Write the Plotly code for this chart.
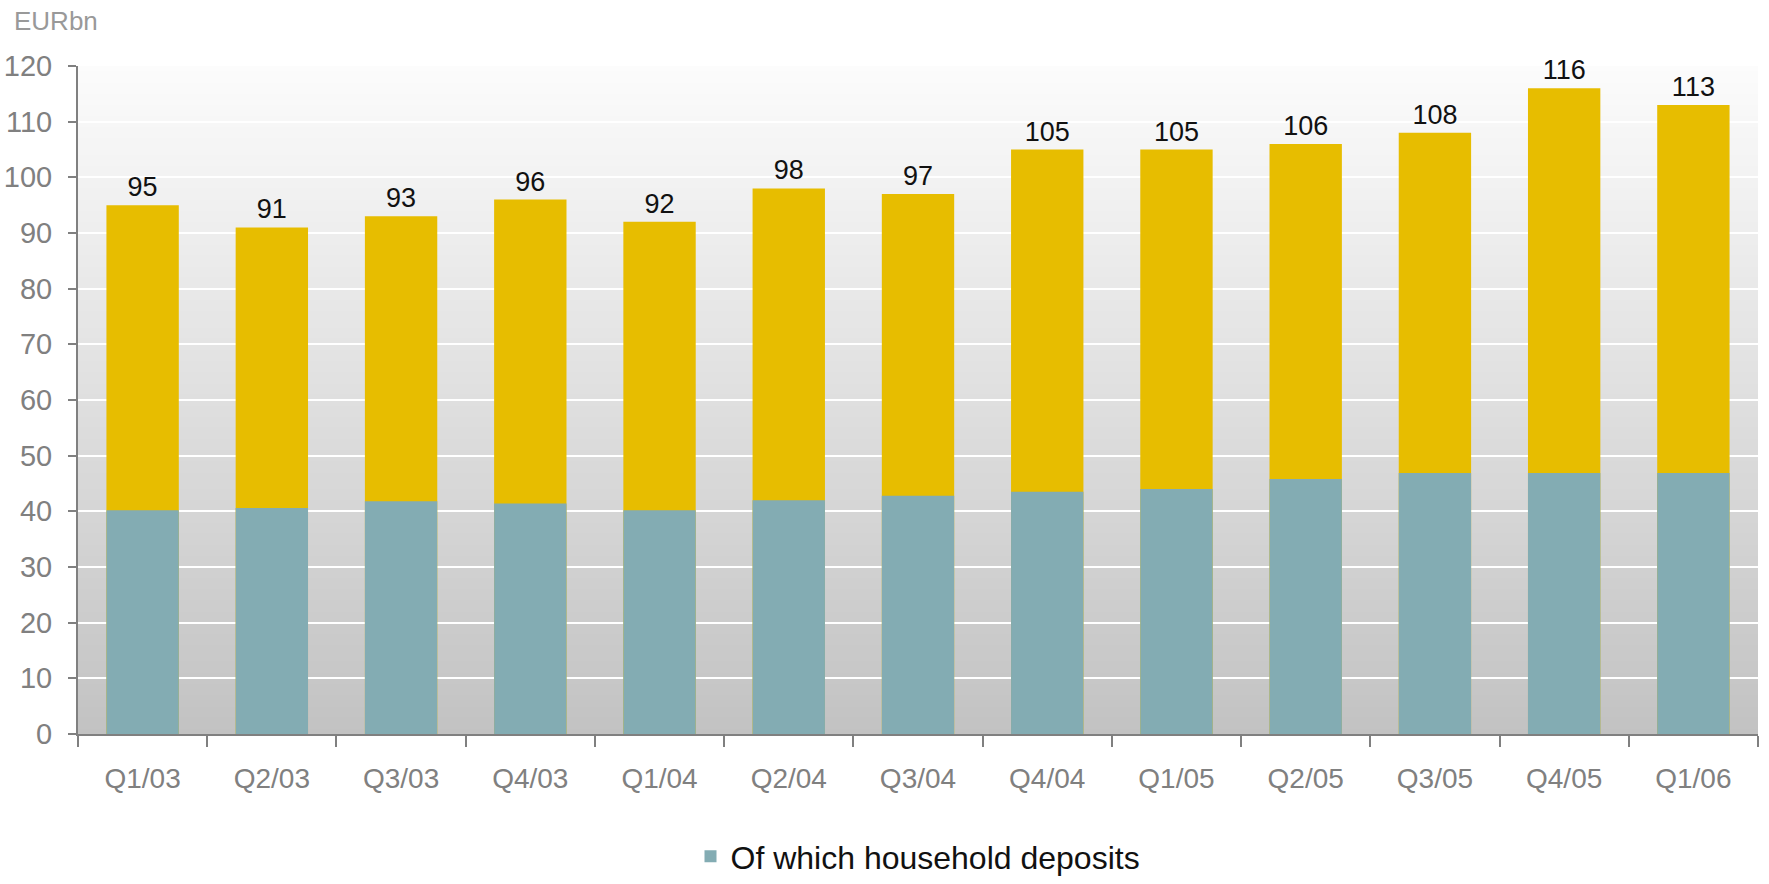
import plotly.graph_objects as go

quarters = ["Q1/03", "Q2/03", "Q3/03", "Q4/03", "Q1/04", "Q2/04", "Q3/04",
            "Q4/04", "Q1/05", "Q2/05", "Q3/05", "Q4/05", "Q1/06"]
total_deposits = [95, 91, 93, 96, 92, 98, 97, 105, 105, 106, 108, 116, 113]
household_deposits = [40.2, 40.6, 41.8, 41.4, 40.2, 42.0, 42.8, 43.5, 44.0,
                      45.8, 46.9, 46.9, 46.9]
y_ticks = list(range(0, 121, 10))

FONT = "Arial, Liberation Sans, sans-serif"
GREY = "#808080"

fig = go.Figure()
fig.add_trace(go.Bar(
    x=quarters, y=total_deposits, name="Total deposits",
    marker=dict(color="#E7BD00", line=dict(width=0)),
    text=[str(v) for v in total_deposits], textposition="outside",
    textfont=dict(family=FONT, size=27, color="#111111"),
    cliponaxis=False, showlegend=False,
))
fig.add_trace(go.Bar(
    x=quarters, y=household_deposits, name="Of which household deposits",
    marker=dict(color="#83ACB3", line=dict(width=0)),
    showlegend=True,
))

# vertical grey gradient behind the plot area (overlapping bands, no seams)
shapes = []
n_bands = 120
top_c, bot_c = 252, 194
for i in range(n_bands):
    frac = (i + 0.5) / n_bands
    c = round(bot_c + (top_c - bot_c) * frac)
    shapes.append(dict(
        type="rect", xref="x domain", yref="y domain",
        x0=0, x1=1, y0=i / n_bands, y1=min(1.0, (i + 1.8) / n_bands),
        fillcolor=f"rgb({c},{c},{c})", line=dict(width=0), layer="below",
    ))

fig.update_layout(
    width=1769, height=884,
    margin=dict(l=78, r=11, t=66, b=150, autoexpand=False),
    paper_bgcolor="white", plot_bgcolor="rgba(0,0,0,0)",
    barmode="overlay", bargap=0.44,
    font=dict(family=FONT, color=GREY),
    shapes=shapes,
    showlegend=True,
    legend=dict(orientation="h", x=0.5, xanchor="center",
                yref="container", y=-0.012, yanchor="bottom",
                font=dict(family=FONT, size=32, color="#111111"),
                bgcolor="rgba(0,0,0,0)", itemwidth=30),
    annotations=[dict(text="EURbn", xref="paper", yref="paper",
                      x=-0.039, y=1.068, xanchor="left", yanchor="middle",
                      showarrow=False, font=dict(family=FONT, size=26, color="#999999"))],
)
fig.update_xaxes(
    showgrid=False, showline=True, linecolor=GREY, linewidth=2,
    ticks="outside", tickson="boundaries", ticklen=11, tickwidth=2, tickcolor=GREY,
    tickfont=dict(family=FONT, size=28, color=GREY), ticklabelstandoff=18,
)
fig.update_yaxes(
    range=[0, 120], tickvals=y_ticks, showgrid=True, gridcolor="white", gridwidth=2,
    showline=True, linecolor=GREY, linewidth=2, zeroline=False,
    ticks="outside", ticklen=8, tickwidth=2, tickcolor=GREY,
    tickfont=dict(family=FONT, size=29, color=GREY), ticklabelstandoff=10,
)

fig.write_html("out.html")
